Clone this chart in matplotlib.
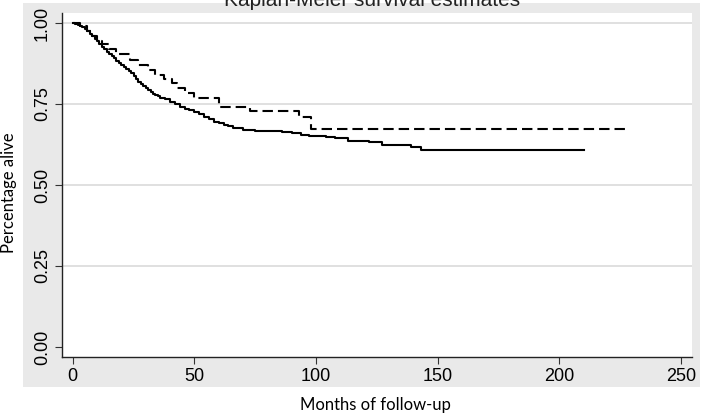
import matplotlib
matplotlib.use('Agg')
import matplotlib.pyplot as plt
from matplotlib.patches import Rectangle

# Kaplan-Meier step data (months, survival)
months_solid = [0, 1, 2, 3, 4, 5, 6, 7, 8, 9, 10, 11, 12, 13, 14, 15, 16, 17, 18, 19,
                20, 21, 22, 23, 24, 25, 26, 27, 28, 29, 30, 31, 32, 33, 34, 35, 36, 38,
                40, 42, 44, 46, 48, 50, 52, 54, 56, 58, 60, 62, 64, 66, 70, 75, 80, 86,
                90, 94, 97, 100, 104, 108, 113, 118, 122, 127, 133, 139, 143, 210]
surv_solid = [1.0, 0.997, 0.994, 0.990, 0.987, 0.982, 0.975, 0.967, 0.960, 0.952,
              0.944, 0.934, 0.926, 0.919, 0.912, 0.905, 0.898, 0.891, 0.884, 0.877,
              0.870, 0.864, 0.858, 0.852, 0.845, 0.836, 0.827, 0.818, 0.811, 0.805,
              0.799, 0.793, 0.787, 0.782, 0.778, 0.774, 0.770, 0.764, 0.757, 0.750,
              0.740, 0.735, 0.730, 0.724, 0.718, 0.711, 0.703, 0.695, 0.690, 0.686,
              0.681, 0.676, 0.670, 0.667, 0.666, 0.663, 0.659, 0.654, 0.652, 0.650,
              0.647, 0.645, 0.637, 0.636, 0.633, 0.624, 0.622, 0.616, 0.608, 0.608]

months_dash = [0, 3, 6, 8, 10, 12, 15, 18, 23.5, 27, 31, 34, 37.5, 41, 43, 46, 50,
               60, 73, 93, 98, 227]
surv_dash = [1.0, 0.99, 0.975, 0.96, 0.945, 0.935, 0.92, 0.903, 0.886, 0.870, 0.855,
             0.840, 0.828, 0.815, 0.800, 0.785, 0.770, 0.742, 0.728, 0.709, 0.672, 0.672]

y_ticks = [0.0, 0.25, 0.5, 0.75, 1.0]
y_ticklabels = ['0.00', '0.25', '0.50', '0.75', '1.00']
x_ticks = [0, 50, 100, 150, 200, 250]

plt.rcParams['lines.scale_dashes'] = False

W, H = 702, 418
fig = plt.figure(figsize=(W / 100, H / 100), dpi=100)

# grey graph region (Stata style), kept behind the axes
fig.patches.append(Rectangle((23 / W, 1 - 387 / H), 677 / W, 384 / H,
                             transform=fig.transFigure, facecolor='#e9e9e9',
                             edgecolor='none', zorder=-5))

ax = fig.add_axes([62 / W, 1 - 357 / H, 630 / W, 344 / H])
ax.set_zorder(2)
ax.set_facecolor('white')

for g in [0.25, 0.5, 0.75, 1.0]:
    ax.axhline(g, color='#dadada', lw=1.2, zorder=1)

ax.step(months_solid, surv_solid, where='post', color='black', lw=1.5, zorder=3)
ax.step(months_dash, surv_dash, where='post', color='black', lw=1.5,
        dashes=(7.5, 3.6), zorder=3)

ax.set_xlim(-4.4, 254.6)
ax.set_ylim(-0.031, 1.031)

ax.set_xticks(x_ticks)
ax.set_yticks(y_ticks)
ax.set_yticklabels(y_ticklabels, rotation=90, va='center')
ax.tick_params(direction='out', length=5, width=0.8, color='#333333',
               labelsize=13, pad=3)
for lab in ax.get_xticklabels() + ax.get_yticklabels():
    lab.set_family(['Liberation Sans', 'DejaVu Sans'])

for side in ['top', 'right']:
    ax.spines[side].set_visible(False)
for side in ['left', 'bottom']:
    ax.spines[side].set_linewidth(1.0)
    ax.spines[side].set_color('#222222')

fig.text(372 / W, 1 - 6 / H, 'Kaplan-Meier survival estimates', ha='center',
         va='baseline', fontsize=15, family=['Liberation Sans', 'DejaVu Sans'],
         color='#222222', zorder=3)

fig.text(375 / W, 1 - 405 / H, 'Months of follow-up', ha='center', va='center',
         fontsize=12, family=['Lato', 'DejaVu Sans'])
fig.text(9 / W, 1 - 193 / H, 'Percentage alive', ha='center', va='center',
         rotation=90, fontsize=12, family=['Lato', 'DejaVu Sans'])

fig.savefig('out.png', dpi=100)
